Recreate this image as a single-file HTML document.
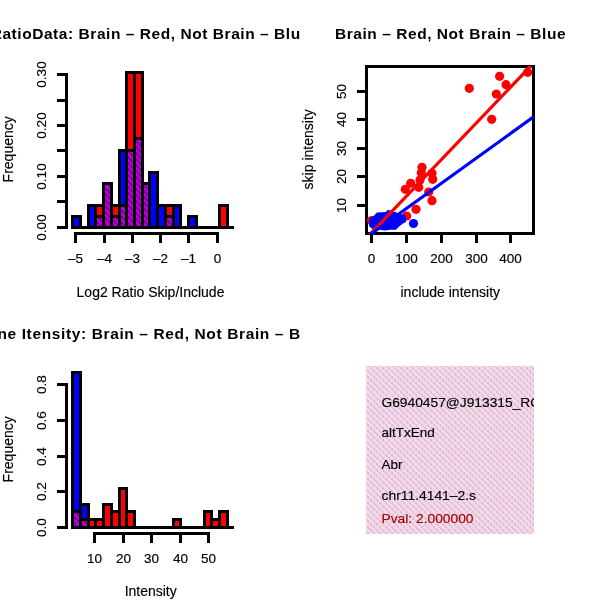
<!DOCTYPE html><html><head><meta charset="utf-8"><style>html,body{margin:0;padding:0;background:#fff;overflow:hidden}svg{display:block;will-change:transform}text{font-family:"Liberation Sans",sans-serif}</style></head><body>
<svg width="600" height="600" viewBox="0 0 600 600">
<defs>
<pattern id="purp" patternUnits="userSpaceOnUse" width="6" height="6" x="0" y="0"><rect width="6" height="6" fill="#BC00DC"/><path d="M0 0h1v1h-1zM1 0h1v1h-1zM2 0h1v1h-1zM1 1h1v1h-1zM2 1h1v1h-1zM3 1h1v1h-1zM2 2h1v1h-1zM3 2h1v1h-1zM4 2h1v1h-1zM3 3h1v1h-1zM4 3h1v1h-1zM5 3h1v1h-1zM0 4h1v1h-1zM4 4h1v1h-1zM5 4h1v1h-1zM0 5h1v1h-1zM1 5h1v1h-1zM5 5h1v1h-1z" fill="#84009C"/></pattern>
<pattern id="pink" patternUnits="userSpaceOnUse" width="6" height="6" x="366" y="366"><rect width="6" height="6" fill="#FDD0FD"/><path d="M4 1h2v2h-2zM5 3h2v1h-2zM0 3h1v1h-1zM1 4h2v2h-2zM2 0h2v1h-2z" fill="#CBD0AF"/></pattern>
<clipPath id="c1"><rect x="0" y="0" width="300" height="300"/></clipPath>
<clipPath id="c3"><rect x="0" y="300" width="300" height="300"/></clipPath>
<clipPath id="c2"><rect x="366" y="66" width="168" height="168"/></clipPath>
<clipPath id="c4"><rect x="366" y="366" width="168" height="168"/></clipPath>
</defs>
<rect width="600" height="600" fill="#fff"/>
<g shape-rendering="crispEdges">
<line x1="71" y1="227.5" x2="234" y2="227.5" stroke="#000" stroke-width="3"/>
<rect x="72.5" y="216.5" width="8.0" height="11.0" fill="#0000FF" stroke="#000" stroke-width="3"/>
<rect x="88.5" y="205.5" width="7.0" height="22.0" fill="#0000FF" stroke="#000" stroke-width="3"/>
<rect x="95.5" y="205.5" width="8.0" height="22.0" fill="#FF0000" stroke="#000" stroke-width="3"/>
<rect x="95.5" y="216.5" width="8.0" height="11.0" fill="url(#purp)" stroke="#000" stroke-width="3"/>
<rect x="103.5" y="183.5" width="8.0" height="44.0" fill="url(#purp)" stroke="#000" stroke-width="3"/>
<rect x="111.5" y="205.5" width="8.0" height="22.0" fill="#FF0000" stroke="#000" stroke-width="3"/>
<rect x="111.5" y="216.5" width="8.0" height="11.0" fill="url(#purp)" stroke="#000" stroke-width="3"/>
<rect x="119.5" y="150.5" width="7.0" height="77.0" fill="#0000FF" stroke="#000" stroke-width="3"/>
<rect x="119.5" y="205.5" width="7.0" height="22.0" fill="url(#purp)" stroke="#000" stroke-width="3"/>
<rect x="126.5" y="72.5" width="8.0" height="155.0" fill="#FF0000" stroke="#000" stroke-width="3"/>
<rect x="126.5" y="150.5" width="8.0" height="77.0" fill="url(#purp)" stroke="#000" stroke-width="3"/>
<rect x="134.5" y="72.5" width="8.0" height="155.0" fill="#FF0000" stroke="#000" stroke-width="3"/>
<rect x="134.5" y="138.5" width="8.0" height="89.0" fill="url(#purp)" stroke="#000" stroke-width="3"/>
<rect x="142.5" y="183.5" width="7.0" height="44.0" fill="url(#purp)" stroke="#000" stroke-width="3"/>
<rect x="149.5" y="172.5" width="8.0" height="55.0" fill="#0000FF" stroke="#000" stroke-width="3"/>
<rect x="157.5" y="205.5" width="8.0" height="22.0" fill="#0000FF" stroke="#000" stroke-width="3"/>
<rect x="165.5" y="205.5" width="8.0" height="22.0" fill="#FF0000" stroke="#000" stroke-width="3"/>
<rect x="165.5" y="216.5" width="8.0" height="11.0" fill="url(#purp)" stroke="#000" stroke-width="3"/>
<rect x="173.5" y="205.5" width="7.0" height="22.0" fill="#0000FF" stroke="#000" stroke-width="3"/>
<rect x="188.5" y="216.5" width="8.0" height="11.0" fill="#0000FF" stroke="#000" stroke-width="3"/>
<rect x="219.5" y="205.5" width="8.0" height="22.0" fill="#FF0000" stroke="#000" stroke-width="3"/>
<line x1="66.5" y1="73" x2="66.5" y2="229" stroke="#000" stroke-width="3"/>
<line x1="57" y1="227.5" x2="68" y2="227.5" stroke="#000" stroke-width="3"/>
<line x1="57" y1="201.5" x2="68" y2="201.5" stroke="#000" stroke-width="3"/>
<line x1="57" y1="176.5" x2="68" y2="176.5" stroke="#000" stroke-width="3"/>
<line x1="57" y1="150.5" x2="68" y2="150.5" stroke="#000" stroke-width="3"/>
<line x1="57" y1="125.5" x2="68" y2="125.5" stroke="#000" stroke-width="3"/>
<line x1="57" y1="100.5" x2="68" y2="100.5" stroke="#000" stroke-width="3"/>
<line x1="57" y1="74.5" x2="68" y2="74.5" stroke="#000" stroke-width="3"/>
<line x1="74" y1="233.5" x2="219" y2="233.5" stroke="#000" stroke-width="3"/>
<line x1="75.5" y1="232" x2="75.5" y2="243" stroke="#000" stroke-width="3"/>
<line x1="104.5" y1="232" x2="104.5" y2="243" stroke="#000" stroke-width="3"/>
<line x1="132.5" y1="232" x2="132.5" y2="243" stroke="#000" stroke-width="3"/>
<line x1="160.5" y1="232" x2="160.5" y2="243" stroke="#000" stroke-width="3"/>
<line x1="188.5" y1="232" x2="188.5" y2="243" stroke="#000" stroke-width="3"/>
<line x1="217.5" y1="232" x2="217.5" y2="243" stroke="#000" stroke-width="3"/>
</g>
<text x="75.5" y="263" font-size="13.5" text-anchor="middle" font-weight="normal" fill="#000" stroke="#000" stroke-width="0.15">–5</text>
<text x="104.5" y="263" font-size="13.5" text-anchor="middle" font-weight="normal" fill="#000" stroke="#000" stroke-width="0.15">–4</text>
<text x="132.5" y="263" font-size="13.5" text-anchor="middle" font-weight="normal" fill="#000" stroke="#000" stroke-width="0.15">–3</text>
<text x="160.5" y="263" font-size="13.5" text-anchor="middle" font-weight="normal" fill="#000" stroke="#000" stroke-width="0.15">–2</text>
<text x="188.5" y="263" font-size="13.5" text-anchor="middle" font-weight="normal" fill="#000" stroke="#000" stroke-width="0.15">–1</text>
<text x="217.5" y="263" font-size="13.5" text-anchor="middle" font-weight="normal" fill="#000" stroke="#000" stroke-width="0.15">0</text>
<text x="0" y="0" transform="translate(46,227.5) rotate(-90)" font-size="13.5" text-anchor="middle" font-weight="normal" fill="#000" stroke="#000" stroke-width="0.15">0.00</text>
<text x="0" y="0" transform="translate(46,176.5) rotate(-90)" font-size="13.5" text-anchor="middle" font-weight="normal" fill="#000" stroke="#000" stroke-width="0.15">0.10</text>
<text x="0" y="0" transform="translate(46,125.5) rotate(-90)" font-size="13.5" text-anchor="middle" font-weight="normal" fill="#000" stroke="#000" stroke-width="0.15">0.20</text>
<text x="0" y="0" transform="translate(46,74.5) rotate(-90)" font-size="13.5" text-anchor="middle" font-weight="normal" fill="#000" stroke="#000" stroke-width="0.15">0.30</text>
<text x="0" y="0" transform="translate(13,149.3) rotate(-90)" font-size="14" text-anchor="middle" font-weight="normal" fill="#000" stroke="#000" stroke-width="0.15">Frequency</text>
<text x="150.5" y="296.6" font-size="14" text-anchor="middle" font-weight="normal" fill="#000" stroke="#000" stroke-width="0.15">Log2 Ratio Skip/Include</text>
<g clip-path="url(#c1)">
<text x="150" y="39" font-size="15.5" text-anchor="middle" font-weight="bold" fill="#000" textLength="318.6" lengthAdjust="spacing">RatioData: Brain – Red, Not Brain – Blue</text>
</g>
<g shape-rendering="crispEdges">
<line x1="357" y1="205.5" x2="368" y2="205.5" stroke="#000" stroke-width="3"/>
<line x1="357" y1="176.5" x2="368" y2="176.5" stroke="#000" stroke-width="3"/>
<line x1="357" y1="148.5" x2="368" y2="148.5" stroke="#000" stroke-width="3"/>
<line x1="357" y1="119.5" x2="368" y2="119.5" stroke="#000" stroke-width="3"/>
<line x1="357" y1="91.5" x2="368" y2="91.5" stroke="#000" stroke-width="3"/>
<line x1="371.5" y1="232" x2="371.5" y2="243" stroke="#000" stroke-width="3"/>
<line x1="406.5" y1="232" x2="406.5" y2="243" stroke="#000" stroke-width="3"/>
<line x1="441.5" y1="232" x2="441.5" y2="243" stroke="#000" stroke-width="3"/>
<line x1="476.5" y1="232" x2="476.5" y2="243" stroke="#000" stroke-width="3"/>
<line x1="510.5" y1="232" x2="510.5" y2="243" stroke="#000" stroke-width="3"/>
</g>
<g shape-rendering="crispEdges">
<rect x="366.5" y="66.5" width="167" height="167" fill="none" stroke="#000" stroke-width="3"/>
</g>
<g clip-path="url(#c2)">
<circle cx="469.3" cy="88.3" r="4.6" fill="#FF0000"/>
<circle cx="499.6" cy="76.3" r="4.6" fill="#FF0000"/>
<circle cx="506" cy="84.7" r="4.6" fill="#FF0000"/>
<circle cx="496.3" cy="94" r="4.6" fill="#FF0000"/>
<circle cx="491.7" cy="119.3" r="4.6" fill="#FF0000"/>
<circle cx="527.7" cy="72.3" r="4.6" fill="#FF0000"/>
<circle cx="422" cy="167.3" r="4.6" fill="#FF0000"/>
<circle cx="421.3" cy="172.7" r="4.6" fill="#FF0000"/>
<circle cx="432" cy="173.3" r="4.6" fill="#FF0000"/>
<circle cx="432.7" cy="179.3" r="4.6" fill="#FF0000"/>
<circle cx="420" cy="180" r="4.6" fill="#FF0000"/>
<circle cx="410.7" cy="183.3" r="4.6" fill="#FF0000"/>
<circle cx="405.3" cy="189.3" r="4.6" fill="#FF0000"/>
<circle cx="418.7" cy="187.3" r="4.6" fill="#FF0000"/>
<circle cx="428.7" cy="192" r="4.6" fill="#FF0000"/>
<circle cx="432" cy="200.7" r="4.6" fill="#FF0000"/>
<circle cx="416" cy="209.3" r="4.6" fill="#FF0000"/>
<circle cx="406.7" cy="216" r="4.6" fill="#FF0000"/>
<circle cx="371.5" cy="220.5" r="4.6" fill="#FF0000"/>
<circle cx="413.5" cy="223.5" r="4.6" fill="#0000FF"/>
<polygon points="369,220 371,217.5 373.5,216 377,212.5 386,212 387,210.3 391,210.3 393,212 396,212 398,214 404,214.5 406,216 406,222 403,223.5 398.5,227 396,229.8 390,229.8 385,230.5 380,229.8 374,229.8 371,228 369,226" fill="#0000FF"/>
<line x1="366" y1="238.5" x2="534" y2="62.6" stroke="#FF0000" stroke-width="3.2"/>
<line x1="366" y1="237.6" x2="534" y2="116.6" stroke="#0000FF" stroke-width="3.2"/>
</g>
<text x="371.5" y="262.5" font-size="13.5" text-anchor="middle" font-weight="normal" fill="#000" stroke="#000" stroke-width="0.15">0</text>
<text x="406.5" y="262.5" font-size="13.5" text-anchor="middle" font-weight="normal" fill="#000" stroke="#000" stroke-width="0.15">100</text>
<text x="441.5" y="262.5" font-size="13.5" text-anchor="middle" font-weight="normal" fill="#000" stroke="#000" stroke-width="0.15">200</text>
<text x="476.5" y="262.5" font-size="13.5" text-anchor="middle" font-weight="normal" fill="#000" stroke="#000" stroke-width="0.15">300</text>
<text x="510.5" y="262.5" font-size="13.5" text-anchor="middle" font-weight="normal" fill="#000" stroke="#000" stroke-width="0.15">400</text>
<text x="0" y="0" transform="translate(346,205.5) rotate(-90)" font-size="13.5" text-anchor="middle" font-weight="normal" fill="#000" stroke="#000" stroke-width="0.15">10</text>
<text x="0" y="0" transform="translate(346,176.5) rotate(-90)" font-size="13.5" text-anchor="middle" font-weight="normal" fill="#000" stroke="#000" stroke-width="0.15">20</text>
<text x="0" y="0" transform="translate(346,148.5) rotate(-90)" font-size="13.5" text-anchor="middle" font-weight="normal" fill="#000" stroke="#000" stroke-width="0.15">30</text>
<text x="0" y="0" transform="translate(346,119.5) rotate(-90)" font-size="13.5" text-anchor="middle" font-weight="normal" fill="#000" stroke="#000" stroke-width="0.15">40</text>
<text x="0" y="0" transform="translate(346,91.5) rotate(-90)" font-size="13.5" text-anchor="middle" font-weight="normal" fill="#000" stroke="#000" stroke-width="0.15">50</text>
<text x="0" y="0" transform="translate(313,149.3) rotate(-90)" font-size="14" text-anchor="middle" font-weight="normal" fill="#000" stroke="#000" stroke-width="0.15">skip intensity</text>
<text x="450.3" y="296.6" font-size="14" text-anchor="middle" font-weight="normal" fill="#000" stroke="#000" stroke-width="0.15">include intensity</text>
<text x="450.3" y="39" font-size="15.5" text-anchor="middle" font-weight="bold" fill="#000" textLength="230.6" lengthAdjust="spacing">Brain – Red, Not Brain – Blue</text>
<g shape-rendering="crispEdges">
<line x1="71" y1="527.5" x2="234" y2="527.5" stroke="#000" stroke-width="3"/>
<rect x="72.5" y="372.5" width="8.0" height="155.0" fill="#0000FF" stroke="#000" stroke-width="3"/>
<rect x="72.5" y="511.5" width="8.0" height="16.0" fill="url(#purp)" stroke="#000" stroke-width="3"/>
<rect x="80.5" y="504.5" width="8.0" height="23.0" fill="#0000FF" stroke="#000" stroke-width="3"/>
<rect x="80.5" y="519.5" width="8.0" height="8.0" fill="url(#purp)" stroke="#000" stroke-width="3"/>
<rect x="88.5" y="519.5" width="7.0" height="8.0" fill="#FF0000" stroke="#000" stroke-width="3"/>
<rect x="95.5" y="519.5" width="8.0" height="8.0" fill="#FF0000" stroke="#000" stroke-width="3"/>
<rect x="103.5" y="504.5" width="8.0" height="23.0" fill="#FF0000" stroke="#000" stroke-width="3"/>
<rect x="111.5" y="511.5" width="8.0" height="16.0" fill="#FF0000" stroke="#000" stroke-width="3"/>
<rect x="119.5" y="488.5" width="7.0" height="39.0" fill="#FF0000" stroke="#000" stroke-width="3"/>
<rect x="126.5" y="511.5" width="8.0" height="16.0" fill="#FF0000" stroke="#000" stroke-width="3"/>
<rect x="173.5" y="519.5" width="7.0" height="8.0" fill="#FF0000" stroke="#000" stroke-width="3"/>
<rect x="204.5" y="511.5" width="7.0" height="16.0" fill="#FF0000" stroke="#000" stroke-width="3"/>
<rect x="211.5" y="519.5" width="8.0" height="8.0" fill="#FF0000" stroke="#000" stroke-width="3"/>
<rect x="219.5" y="511.5" width="8.0" height="16.0" fill="#FF0000" stroke="#000" stroke-width="3"/>
<line x1="66.5" y1="383" x2="66.5" y2="529" stroke="#000" stroke-width="3"/>
<line x1="57" y1="527.5" x2="68" y2="527.5" stroke="#000" stroke-width="3"/>
<line x1="57" y1="491.5" x2="68" y2="491.5" stroke="#000" stroke-width="3"/>
<line x1="57" y1="456.5" x2="68" y2="456.5" stroke="#000" stroke-width="3"/>
<line x1="57" y1="420.5" x2="68" y2="420.5" stroke="#000" stroke-width="3"/>
<line x1="57" y1="384.5" x2="68" y2="384.5" stroke="#000" stroke-width="3"/>
<line x1="93" y1="533.5" x2="210" y2="533.5" stroke="#000" stroke-width="3"/>
<line x1="94.5" y1="532" x2="94.5" y2="543" stroke="#000" stroke-width="3"/>
<line x1="123.5" y1="532" x2="123.5" y2="543" stroke="#000" stroke-width="3"/>
<line x1="151.5" y1="532" x2="151.5" y2="543" stroke="#000" stroke-width="3"/>
<line x1="180.5" y1="532" x2="180.5" y2="543" stroke="#000" stroke-width="3"/>
<line x1="208.5" y1="532" x2="208.5" y2="543" stroke="#000" stroke-width="3"/>
</g>
<text x="94.5" y="562.5" font-size="13.5" text-anchor="middle" font-weight="normal" fill="#000" stroke="#000" stroke-width="0.15">10</text>
<text x="123.5" y="562.5" font-size="13.5" text-anchor="middle" font-weight="normal" fill="#000" stroke="#000" stroke-width="0.15">20</text>
<text x="151.5" y="562.5" font-size="13.5" text-anchor="middle" font-weight="normal" fill="#000" stroke="#000" stroke-width="0.15">30</text>
<text x="180.5" y="562.5" font-size="13.5" text-anchor="middle" font-weight="normal" fill="#000" stroke="#000" stroke-width="0.15">40</text>
<text x="208.5" y="562.5" font-size="13.5" text-anchor="middle" font-weight="normal" fill="#000" stroke="#000" stroke-width="0.15">50</text>
<text x="0" y="0" transform="translate(46,527.5) rotate(-90)" font-size="13.5" text-anchor="middle" font-weight="normal" fill="#000" stroke="#000" stroke-width="0.15">0.0</text>
<text x="0" y="0" transform="translate(46,491.5) rotate(-90)" font-size="13.5" text-anchor="middle" font-weight="normal" fill="#000" stroke="#000" stroke-width="0.15">0.2</text>
<text x="0" y="0" transform="translate(46,456.5) rotate(-90)" font-size="13.5" text-anchor="middle" font-weight="normal" fill="#000" stroke="#000" stroke-width="0.15">0.4</text>
<text x="0" y="0" transform="translate(46,420.5) rotate(-90)" font-size="13.5" text-anchor="middle" font-weight="normal" fill="#000" stroke="#000" stroke-width="0.15">0.6</text>
<text x="0" y="0" transform="translate(46,384.5) rotate(-90)" font-size="13.5" text-anchor="middle" font-weight="normal" fill="#000" stroke="#000" stroke-width="0.15">0.8</text>
<text x="0" y="0" transform="translate(13,449.3) rotate(-90)" font-size="14" text-anchor="middle" font-weight="normal" fill="#000" stroke="#000" stroke-width="0.15">Frequency</text>
<text x="150.7" y="596.3" font-size="14" text-anchor="middle" font-weight="normal" fill="#000" stroke="#000" stroke-width="0.15">Intensity</text>
<g clip-path="url(#c3)">
<text x="150" y="339" font-size="15.5" text-anchor="middle" font-weight="bold" fill="#000" textLength="349" lengthAdjust="spacing">Gene Itensity: Brain – Red, Not Brain – Blue</text>
</g>
<rect x="366" y="366" width="168" height="168" fill="url(#pink)" shape-rendering="crispEdges"/>
<g clip-path="url(#c4)">
<text x="381.5" y="406.7" font-size="13.5" text-anchor="start" font-weight="normal" fill="#000" textLength="158.7" lengthAdjust="spacingAndGlyphs" stroke="#000" stroke-width="0.15">G6940457@J913315_RC</text>
<text x="381.5" y="437.3" font-size="13.5" text-anchor="start" font-weight="normal" fill="#000" stroke="#000" stroke-width="0.15">altTxEnd</text>
<text x="381.5" y="468.8" font-size="13.5" text-anchor="start" font-weight="normal" fill="#000" stroke="#000" stroke-width="0.15">Abr</text>
<text x="381.5" y="499.5" font-size="13.5" text-anchor="start" font-weight="normal" fill="#000" textLength="94.5" lengthAdjust="spacingAndGlyphs" stroke="#000" stroke-width="0.15">chr11.4141–2.s</text>
<text x="381.5" y="522.5" font-size="13.5" text-anchor="start" font-weight="normal" fill="#A80000" textLength="92" lengthAdjust="spacingAndGlyphs" stroke="#A80000" stroke-width="0.15">Pval: 2.000000</text>
</g>
</svg></body></html>
